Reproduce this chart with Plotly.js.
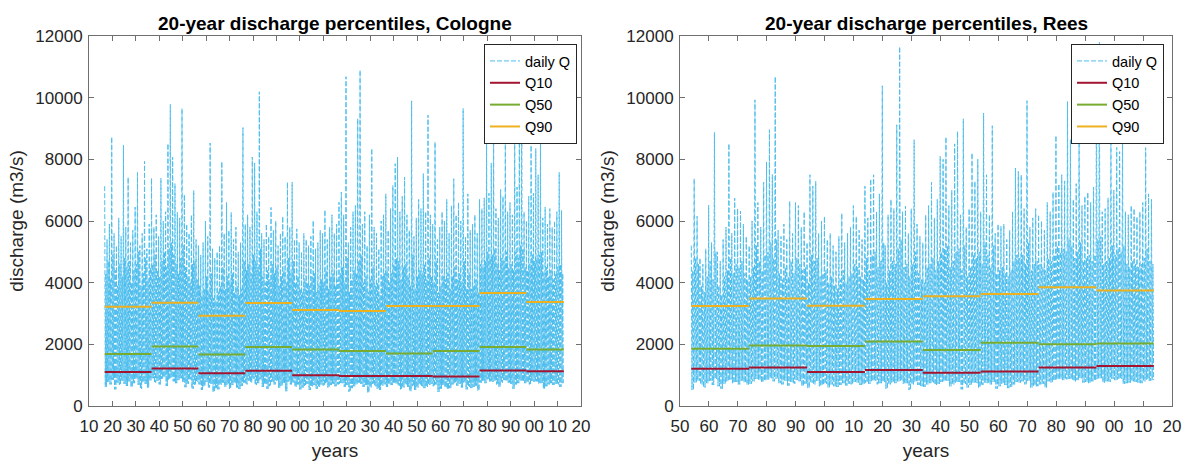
<!DOCTYPE html>
<html>
<head>
<meta charset="utf-8">
<script src="https://cdn.plot.ly/plotly-3.0.1.min.js"></script>
<style>html,body{margin:0;padding:0;background:#fff;}#chart{width:1192px;height:461px;}</style>
</head>
<body>
<div id="chart"></div>
<script>
// ---------- Cologne (daily Q summarised per year: peak, secondary high, low) ----------
const colStart = 1816.7;
const colPeak = [
7130,5400,5900,8725,5600,5200,6100,5500,8455,5800,
7420,5300,5700,6450,7570,5200,5600,7935,5100,5900,
7390,5800,6200,5500,7390,6000,6300,8510,9780,8075,
7210,6280,6100,9650,6860,5900,5600,6200,6990,5400,
5200,4900,5300,6000,5500,8530,5100,4800,5000,5200,
7925,5600,6600,5700,6280,5400,5800,5000,5300,9030,
5900,6200,5800,8075,7880,6300,10190,5600,5400,5900,
5500,6440,5700,6000,5200,5600,6150,5500,7260,5800,
7260,5400,5745,5300,5000,5600,5400,5200,5500,6015,
5100,5300,5700,5600,6360,5400,5800,6200,5600,5900,
6610,6935,6200,10680,5300,5800,6300,6500,9320,10895,
5900,6300,5200,6200,8350,5800,5600,5100,6000,6200,
6880,5700,6400,7155,7860,8075,6300,6800,7425,6200,
5700,9895,5500,6100,6700,6400,7535,6300,9430,6200,
5900,8565,5400,5800,6300,6000,6700,5600,6500,7370,
6200,6600,6000,9650,5500,6880,5700,5900,6200,5600,
6700,6400,6750,8835,6900,7880,8725,6400,6100,7020,
6800,8725,6300,6600,6200,8835,7100,10400,10500,6300,
6000,6800,8455,6900,8350,7500,8835,6100,6450,5900,
6400,5800,6000,6300,7580,6340];
const colHigh = [
4300,4700,4100,4900,4400,3900,4600,4200,4800,4500,
4700,4000,4400,4600,5000,3900,4300,4800,4100,4500,
4600,4900,4400,4200,4700,5000,4500,5100,5300,4900,
4600,4300,4800,5200,4500,4200,4000,4600,4700,4100,
3900,3600,3800,4200,3700,4300,3500,3400,3700,3900,
4500,3800,4200,4000,4300,3700,3900,3600,3800,4700,
4400,4600,4300,4900,4700,4500,5100,4200,4000,4400,
4100,4600,4300,4500,3900,4200,4400,4000,4800,4300,
4700,4000,4200,3800,3700,4100,4000,3900,4200,4300,
3700,3900,4100,4000,4400,3800,4200,4300,3900,4100,
4300,4500,4000,4800,3700,4100,4400,4300,4700,4900,
4000,4200,3700,4100,4500,3900,4000,3600,4200,4300,
4400,4000,4300,4600,4800,4700,4100,4500,4600,4200,
3900,4900,3800,4200,4400,4300,4600,4100,4800,4200,
4000,4700,3700,3900,4200,4100,4300,3800,4200,4500,
4100,4300,4000,4700,3800,4300,3800,3900,4100,3700,
4600,4500,4700,5000,4800,4900,5100,4600,4400,4800,
4700,5000,4500,4600,4400,5000,4800,5200,5100,4500,
4400,4600,4900,4700,4800,4900,5000,4300,4500,4200,
4400,4100,4300,4500,4600,4300];
const colLow = [
620,780,700,850,540,760,690,820,720,650,
800,610,740,880,690,560,770,720,600,830,
900,760,820,700,880,930,650,860,920,800,
740,840,900,780,610,720,860,560,690,780,
700,520,640,780,600,720,450,580,540,690,
760,620,700,560,680,740,600,550,650,760,
700,820,760,880,680,740,860,620,700,560,
640,780,700,820,590,660,740,480,780,700,
760,620,700,540,600,650,720,520,640,680,
560,620,700,660,740,600,680,720,640,700,
720,740,620,680,460,580,640,700,760,720,
620,680,430,600,720,640,560,520,660,700,
620,700,680,740,720,660,540,600,700,620,
480,640,520,600,700,640,580,620,680,720,
640,700,460,560,680,600,540,580,700,740,
660,720,600,760,540,620,580,620,660,500,
760,820,740,860,800,780,820,700,620,760,
840,800,760,720,560,700,740,820,800,740,
760,700,820,780,800,720,740,560,640,700,
740,680,720,700,620,740];
const colEdges = [1816.7,1836.7,1856.7,1876.7,1896.7,1916.7,1936.7,1956.7,1976.7,1996.7,2012.7];
const colQ10 = [1105,1215,1065,1140,1000,975,975,955,1150,1130];
const colQ50 = [1690,1930,1670,1910,1830,1780,1700,1780,1910,1830];
const colQ90 = [3220,3350,2930,3340,3110,3080,3240,3240,3665,3370];
const colTickVals = [1810,1820,1830,1840,1850,1860,1870,1880,1890,1900,1910,1920,1930,1940,1950,1960,1970,1980,1990,2000,2010,2020];
const colTickText = ['10','20','30','40','50','60','70','80','90','00','10','20','30','40','50','60','70','80','90','00','10','20'];

// ---------- Rees ----------
const reesStart = 1853.9;
const reesPeak = [
5200,7375,6155,4800,4600,5100,6510,5300,8875,5000,
4700,5400,5800,8510,5600,6740,6400,6320,5900,5500,
5200,6000,9930,6600,5800,7255,7915,8960,7505,10685,
5700,5500,5900,5400,6640,5600,6600,6500,5800,6300,
5300,7500,7130,7290,5600,6000,6150,5400,5600,5200,
5000,5500,6250,5300,5600,5800,6500,6150,5700,5400,
7130,6100,7360,7500,6300,6880,10385,5200,6200,6700,
6400,9120,11655,6300,6480,5600,6400,8635,5900,5500,
5300,6200,6500,7255,6100,6700,8100,8000,8725,6500,
7000,8500,8905,6200,9315,5800,6400,8205,7290,8000,
6300,9500,7500,6200,9090,5600,5900,5830,5900,5400,
5700,6300,7720,7610,7500,6400,9900,5800,6100,6400,
6200,6000,5700,6600,6300,6935,8770,7200,7500,7300,
9875,8635,6700,7210,8900,6500,6800,6935,6600,7100,
11100,11800,6300,6400,6750,8635,7000,8385,8250,8960,
6300,6200,6500,6400,6140,6300,6600,8380,6880,6700];
const reesHigh = [
4400,4800,4600,3900,3700,4200,4700,4100,5000,3900,
3600,4200,4400,4800,4300,4600,4500,4700,4300,4100,
4200,4500,5200,4700,4400,4900,5000,5300,4800,5400,
4300,4100,4500,4200,4700,4300,4800,4600,4400,4500,
4000,4900,4700,4800,4200,4300,4400,4000,4200,3900,
3800,4100,4400,4000,4200,4300,4600,4500,4200,4100,
4800,4400,4900,5000,4500,4700,5300,4000,4400,4700,
4600,5100,5400,4500,4600,4200,4600,5000,4300,4100,
4000,4500,4600,4800,4400,4700,5000,5100,5200,4500,
4700,5000,5100,4400,5200,4200,4500,4900,4800,5000,
4600,5300,4900,4500,5200,4300,4400,4500,4300,4200,
4400,4700,4900,4800,4900,4600,5300,4400,4600,4700,
4600,4500,4400,4800,4700,4900,5200,5000,5100,5000,
5400,5200,4800,5000,5300,4700,4800,4900,4700,4900,
5400,5500,4600,4700,4800,5200,4900,5100,5000,5200,
4600,4500,4700,4600,4500,4600,4800,5100,4700,4600];
const reesLow = [
520,760,820,700,600,740,820,680,880,640,
560,720,800,860,740,780,700,820,760,690,
720,800,880,840,760,820,860,900,800,880,
740,700,820,660,780,720,840,800,640,720,
580,760,700,820,640,680,720,600,700,640,
620,680,740,660,720,700,780,760,680,700,
760,720,800,820,700,740,780,560,700,760,
740,800,820,720,740,520,700,780,680,640,
620,700,740,760,680,720,780,800,820,640,
700,760,780,540,720,600,680,760,740,600,
680,760,740,700,780,560,640,720,680,580,
620,700,780,760,800,700,820,600,660,640,
700,720,600,800,760,820,860,880,840,860,
880,860,800,840,900,760,780,740,800,820,
880,900,760,800,780,880,840,860,880,720,
740,760,800,780,760,740,800,860,820,840];
const reesEdges = [1853.9,1873.9,1893.9,1913.9,1933.9,1953.9,1973.9,1993.9,2013.7];
const reesQ10 = [1210,1250,1100,1165,1080,1120,1250,1295];
const reesQ50 = [1855,1960,1950,2090,1820,2050,2005,2030];
const reesQ90 = [3245,3490,3255,3470,3560,3635,3850,3750];
const reesTickVals = [1850,1860,1870,1880,1890,1900,1910,1920,1930,1940,1950,1960,1970,1980,1990,2000,2010,2020];
const reesTickText = ['50','60','70','80','90','00','10','20','30','40','50','60','70','80','90','00','10','20'];

const yTickVals = [0,2000,4000,6000,8000,10000,12000];
const yTickText = ['0','2000','4000','6000','8000','10000','12000'];

const titles = ['20-year discharge percentiles, Cologne','20-year discharge percentiles, Rees'];
const seriesNames = ['daily Q','Q10','Q50','Q90'];

// ---------- build ----------
const FONT = 'Liberation Sans, Arial, Helvetica, sans-serif';
const INK = '#262626';
const FRAME = '#6f6f6f';
const C_DAILY = '#4DBEEE', C_Q10 = '#A2142F', C_Q50 = '#77AC30', C_Q90 = '#EDB120';

function buildDaily(start, peak, low, high) {
  const x = [], y = [];
  for (let i = 0; i < peak.length; i++) {
    const t = start + i;
    x.push(t, t + 0.25, t + 0.5, t + 0.75);
    y.push(peak[i], low[i], high[i], low[i]);
  }
  return {x, y};
}
function buildSteps(edges, q) {
  const x = [], y = [];
  for (let i = 0; i < q.length; i++) {
    x.push(edges[i], edges[i + 1], null);
    y.push(q[i], q[i], null);
  }
  return {x, y};
}

function makeTraces(daily, edges, q10, q50, q90, xa, ya, leg) {
  const d = buildDaily(...daily);
  const s10 = buildSteps(edges, q10), s50 = buildSteps(edges, q50), s90 = buildSteps(edges, q90);
  return [
    {type:'scatter', mode:'lines', name:seriesNames[0], x:d.x, y:d.y, xaxis:xa, yaxis:ya, legend:leg,
     line:{color:C_DAILY, width:1, dash:'5px,2px'}, hoverinfo:'skip'},
    {type:'scatter', mode:'lines', name:seriesNames[1], x:s10.x, y:s10.y, xaxis:xa, yaxis:ya, legend:leg,
     line:{color:C_Q10, width:2}, connectgaps:false},
    {type:'scatter', mode:'lines', name:seriesNames[2], x:s50.x, y:s50.y, xaxis:xa, yaxis:ya, legend:leg,
     line:{color:C_Q50, width:2}, connectgaps:false},
    {type:'scatter', mode:'lines', name:seriesNames[3], x:s90.x, y:s90.y, xaxis:xa, yaxis:ya, legend:leg,
     line:{color:C_Q90, width:2}, connectgaps:false}
  ];
}

const traces = [
  ...makeTraces([colStart, colPeak, colLow, colHigh], colEdges, colQ10, colQ50, colQ90, 'x', 'y', 'legend'),
  ...makeTraces([reesStart, reesPeak, reesLow, reesHigh], reesEdges, reesQ10, reesQ50, reesQ90, 'x2', 'y2', 'legend2')
];

const W = 1192, H = 461;
const yDom = [(H - 406) / H, (H - 36) / H];

function xAxis(dom, range, vals, text, anchor) {
  return {
    domain: dom, range: range, anchor: anchor,
    tickmode: 'array', tickvals: vals, ticktext: text,
    ticks: 'inside', ticklen: 5, tickwidth: 1, tickcolor: FRAME,
    showline: true, linecolor: FRAME, linewidth: 1, mirror: 'ticks',
    showgrid: false, zeroline: false, ticklabelstandoff: 5,
    tickfont: {family: FONT, size: 17, color: INK},
    title: {text: 'years', font: {family: FONT, size: 19, color: INK}, standoff: 12}
  };
}
function yAxis(anchor) {
  return {
    domain: yDom, range: [0, 12000], anchor: anchor,
    tickmode: 'array', tickvals: yTickVals, ticktext: yTickText,
    ticks: 'inside', ticklen: 5, tickwidth: 1, tickcolor: FRAME,
    showline: true, linecolor: FRAME, linewidth: 1, mirror: 'ticks',
    showgrid: false, zeroline: false, ticklabelstandoff: 2,
    tickfont: {family: FONT, size: 17, color: INK},
    title: {text: 'discharge (m3/s)', font: {family: FONT, size: 19, color: INK}, standoff: 6}
  };
}
function legendCfg(xRight) {
  return {
    x: xRight / W, xanchor: 'right', y: (H - 44) / H, yanchor: 'top',
    bgcolor: '#ffffff', bordercolor: INK, borderwidth: 1,
    font: {family: FONT, size: 14.5, color: '#000'},
    tracegroupgap: 0, itemwidth: 30
  };
}

const layout = {
  width: W, height: H,
  margin: {l: 0, r: 0, t: 0, b: 0},
  paper_bgcolor: '#fff', plot_bgcolor: '#fff',
  showlegend: true,
  xaxis: xAxis([89 / W, 581 / W], [1810, 2020], colTickVals, colTickText, 'y'),
  yaxis: yAxis('x'),
  xaxis2: xAxis([680 / W, 1172 / W], [1850, 2020], reesTickVals, reesTickText, 'y2'),
  yaxis2: yAxis('x2'),
  legend: legendCfg(577),
  legend2: legendCfg(1164),
  annotations: [
    {text: '<b>' + titles[0] + '</b>', xref: 'paper', yref: 'paper', x: 335 / W, y: (H - 23) / H,
     xanchor: 'center', yanchor: 'middle', showarrow: false, font: {family: FONT, size: 19, color: '#000'}},
    {text: '<b>' + titles[1] + '</b>', xref: 'paper', yref: 'paper', x: 926 / W, y: (H - 23) / H,
     xanchor: 'center', yanchor: 'middle', showarrow: false, font: {family: FONT, size: 19, color: '#000'}}
  ]
};

Plotly.newPlot('chart', traces, layout, {displayModeBar: false, responsive: false});
</script>
</body>
</html>
